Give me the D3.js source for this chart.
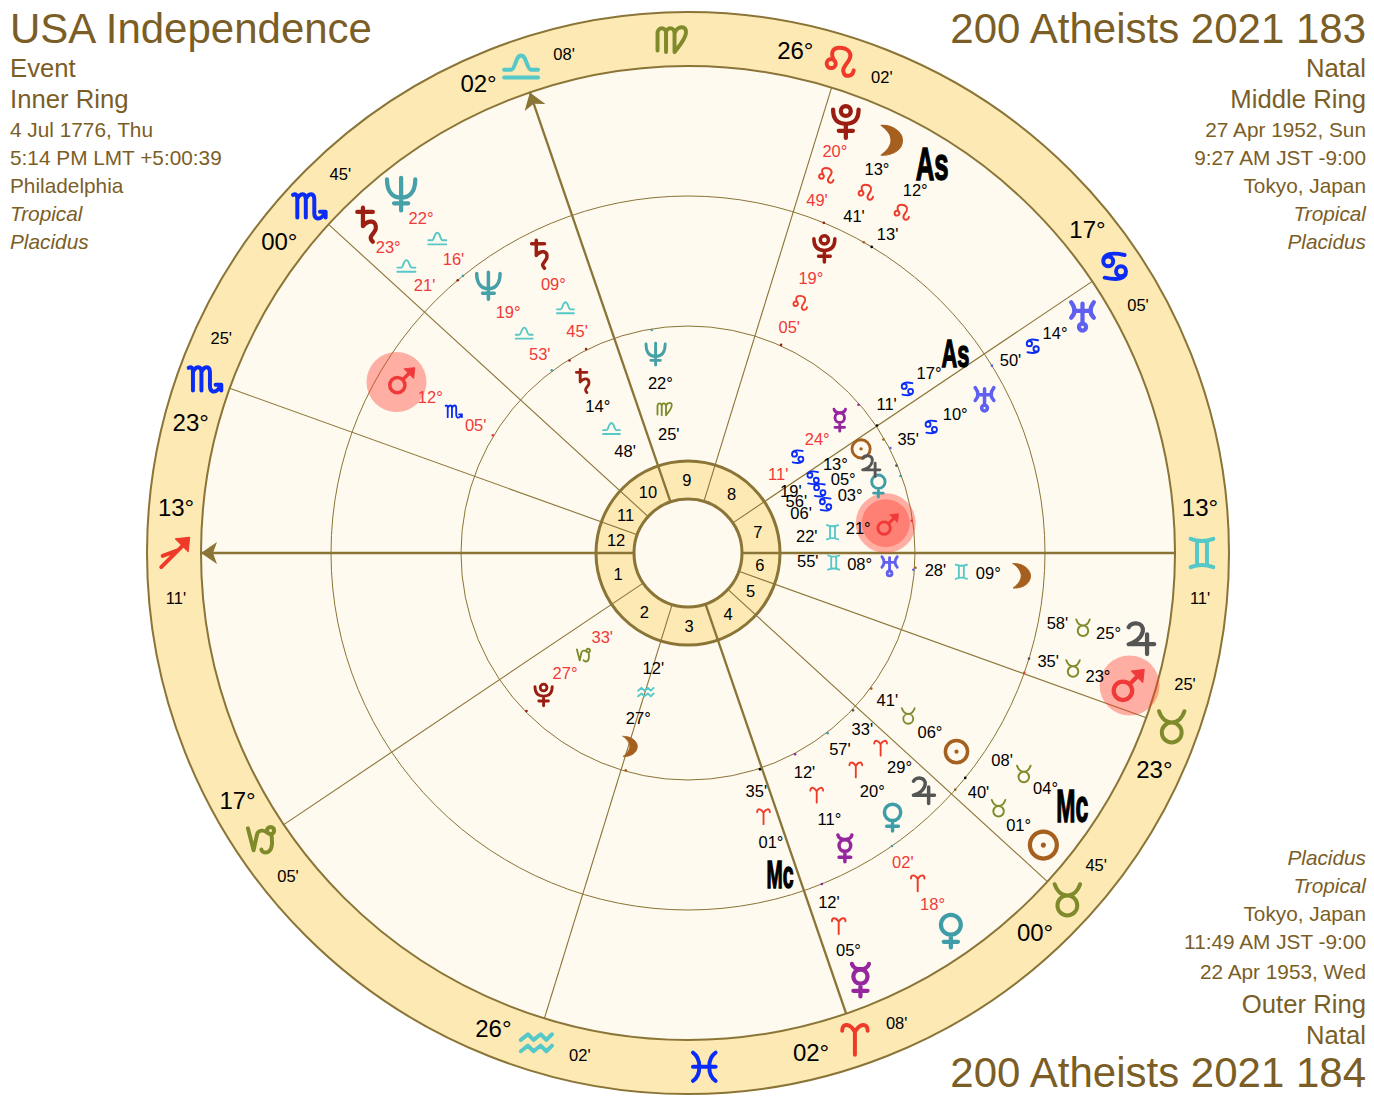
<!DOCTYPE html>
<html lang="en">
<head>
<meta charset="UTF-8">
<title>Tri-wheel chart</title>
<script src="https://d3js.org/d3.v7.min.js"></script>
<style>
  html, body { margin: 0; padding: 0; background: #fff; }
  svg { display: block; }
  text { font-family: "Liberation Sans", Arial, sans-serif; }
  .head { fill: #7b5e26; }
  .glyph { fill: none; stroke-linecap: round; stroke-linejoin: round; }
</style>
</head>
<body>
<script>
// signs run from 0 = aries
const signNames = ["aries","taurus","gemini","cancer","leo","virgo","libra","scorpio","sagittarius","capricorn","aquarius","pisces"];
const signColors = ["#ef3a2a","#7f8a2b","#55c8c8","#0a2cf5"]; // fire earth air water

// house cusps 1..12
const cuspDeg  = [13,17,26, 2, 0,23,13,17,26, 2, 0,23];
const cuspSign = [ 8, 9,10, 0, 1, 1, 2, 3, 4, 6, 7, 7];
const cuspMin  = [11, 5, 2, 8,45,25,11, 5, 2, 8,45,25];
const axisHouses = [1,4,7,10];
const arrowHouses = [1,10];
const interceptedSigns = [5,11]; // no cusp falls in these, glyph only

// inner ring, USA Independence
const innerBodies = ["sun","moon","mercury","venus","mars","jupiter","saturn","uranus","neptune","pluto"];
const innerDeg    = [13,27,24, 3,21, 5,14, 8,22,27];
const innerSign   = [ 3,10, 3, 3, 2, 3, 6, 2, 5, 9];
const innerMin    = [19,12,11, 6,22,56,48,55,25,33];
const innerShift  = [0.9,-0.8,0.3,-0.4,0,2.75,0,0.5,0,0];
const innerRetro  = ["mercury","pluto"];

// middle ring, 200 Atheists 2021 183
const middleBodies = ["sun","moon","mercury","venus","mars","jupiter","saturn","uranus","neptune","pluto","As","Mc"];
const middleDeg    = [ 6, 9,11,20,12,29, 9,10,19,19,17, 1];
const middleSign   = [ 1, 2, 0, 0, 7, 0, 6, 3, 6, 4, 3, 0];
const middleMin    = [41,28,12,57, 5,33,45,35,53, 5,11,35];
const middleShift  = [0,-0.2,0,0,0,-1.7,0,0,0,0,2.8,-2.4];
const middleRetro  = ["mars","saturn","neptune","pluto"];

// outer ring, 200 Atheists 2021 184
const outerBodies = ["sun","moon","mercury","venus","mars","jupiter","saturn","uranus","neptune","pluto","As","Mc"];
const outerDeg    = [ 1,13, 5,18,23,25,23,14,22,20,12, 4];
const outerSign   = [ 1, 4, 0, 0, 1, 1, 6, 3, 6, 4, 4, 1];
const outerMin    = [40,41,12, 2,35,58,21,50,16,49,13, 8];
const outerShift  = [2.1,3.3,0,0,2.9,6.5,4.3,-0.7,-0.5,2.3,-1.1,5.7];
const outerRetro  = ["venus","saturn","neptune","pluto"];

const bodyColors = {sun:"#a5601f",moon:"#a5601f",mercury:"#95269d",venus:"#3f9da8",mars:"#f03a3a",jupiter:"#555555",
  saturn:"#9b2013",uranus:"#5f5ff0",neptune:"#45a0a8",pluto:"#9b1c10",As:"#000",Mc:"#000"};

const headTL = ["USA Independence","Event","Inner Ring","4 Jul 1776, Thu","5:14 PM LMT +5:00:39","Philadelphia","Tropical","Placidus"];
const headTR = ["200 Atheists 2021 183","Natal","Middle Ring","27 Apr 1952, Sun","9:27 AM JST -9:00","Tokyo, Japan","Tropical","Placidus"];
const headBR = ["Placidus","Tropical","Tokyo, Japan","11:49 AM JST -9:00","22 Apr 1953, Wed","Outer Ring","Natal","200 Atheists 2021 184"];

// glyph outlines in a 24 unit box around 0,0
const moonPath = "M-7,-10.5C2,-11 8,-5 8,0C8,6 2,11 -7,10.5C-2,7 0,3 0,0C0,-3 -2,-7 -7,-10.5Z";
const glyphs = {
  sun: {d:"M9.5,0A9.5,9.5 0 1 1-9.5,0A9.5,9.5 0 1 1 9.5,0", dot:1.8},
  moon: {fill:moonPath},
  mercury: {d:"M-6,-11C-5,-6 5,-6 6,-11M5,-2A5,5 0 1 1-5,-2A5,5 0 1 1 5,-2M0,3V12M-5,8H5"},
  venus: {d:"M7,-4A7,7 0 1 1-7,-4A7,7 0 1 1 7,-4M0,3V12M-5,8H5"},
  mars: {d:"M2.5,4A6.5,6.5 0 1 1-10.5,4A6.5,6.5 0 1 1 2.5,4M1,-1L9,-9", fill:"M2,-10L11,-11L10,-2Z"},
  jupiter: {d:"M-8,-8C-6,-12 3,-12 2,-5C1,0 -4,3 -8,4H10M5,-3V11"},
  saturn: {d:"M-6,-9H5M-2,-12V1C2,-4 8,-3 7,3C6,7 1,8 5,12"},
  uranus: {d:"M-8,-10C-5,-6 -5,-2 -8,1M8,-10C5,-6 5,-2 8,1M-6,-4H6M0,-9V5M2.5,7.5A2.5,2.5 0 1 1-2.5,7.5A2.5,2.5 0 1 1 2.5,7.5"},
  neptune: {d:"M-10,-10C-10,0 -5,3 0,3C5,3 10,0 10,-10M0,-11V12M-5,7H5"},
  pluto: {d:"M-9,-8C-9,0 -5,2 0,2C5,2 9,0 9,-8M3.5,-7A3.5,3.5 0 1 1-3.5,-7A3.5,3.5 0 1 1 3.5,-7M0,2V12M-5,7H5"},
  aries: {d:"M-9,-6C-9,-12 -3,-11 0,-5L0,11M9,-6C9,-12 3,-11 0,-5"},
  taurus: {d:"M7,4A7,7 0 1 1-7,4A7,7 0 1 1 7,4M-9,-11C-7,-5 -3,-3 0,-3C3,-3 7,-5 9,-11"},
  gemini: {d:"M-8,-10C-3,-8 3,-8 8,-10M-8,10C-3,8 3,8 8,10M-3.5,-8V8M3.5,-8V8"},
  cancer: {d:"M-1,-3.5A3.5,3.5 0 1 1-8,-3.5A3.5,3.5 0 1 1-1,-3.5M-8,-3.5C-8,-9 -2,-10 7,-8M8,3.5A3.5,3.5 0 1 1 1,3.5A3.5,3.5 0 1 1 8,3.5M8,3.5C8,9 2,10 -7,8"},
  leo: {d:"M-2.7,1.2A3.2,3.2 0 1 1-9.1,1.2A3.2,3.2 0 1 1-2.7,1.2M-3.5,-0.5C-7,-6 -5,-10 0,-10C6,-10 9,-6 7,-2C5,2 1,5 3,8C4,10.5 9,11 10,6"},
  virgo: {d:"M-10,8V-4C-10,-9 -4,-9 -4,-4V9M-4,-4C-4,-9 2,-9 2,-4V9M2,-4C3,-9 11,-11 10,-4C9,1 5,5 2,9"},
  libra: {d:"M-12,7.5H12M-12,2H-7C-4,2 -4,-8 0,-8C4,-8 4,2 7,2H12"},
  scorpio: {d:"M-11,-8C-9,-9 -8,-8 -8,-5V8M-8,-5C-6,-10 -2,-9 -2,-5V8M-2,-5C0,-10 4,-9 4,-5V5C4,9 7,10 10,7L12,4M8,4H12V8"},
  sagittarius: {d:"M-9,10L9,-8M-8,2L3,-2", fill:"M1,-10L11,-11L10,-1Z"},
  capricorn: {d:"M-9.5,-8L-5.5,7.5L-3,-4C-2,-7 2,-7 4,-5M9,-6.5A2.5,2.5 0 1 1 4,-6.5A2.5,2.5 0 1 1 9,-6.5M7,-4C8,2 8,9 3,9C1.5,9 0,8 0,7"},
  aquarius: {d:"M-11,-3L-6,-7L-2,-3L3,-7L7,-3L11,-7M-11,5L-6,1L-2,5L3,1L7,5L11,1"},
  pisces: {d:"M-8,-10C-2,-6 -2,6 -8,10M8,-10C2,-6 2,6 8,10M-8,0H8"}
};

const W = 1374, H = 1108;
const cx = 688, cy = 553;
const rOuter = 541, rZodiac = 487, rMid = 357, rIn = 227, rHouse = 92, rHub = 54;
const lineCol = "#8a7436", discCol = "#fefaef", bandCol = "#fce9b4", retroCol = "#ef3a3a";
const labelSize = 16.5;

const toLon = (deg, sign, min) => sign * 30 + deg + min / 60;
const ascLon = toLon(cuspDeg[0], cuspSign[0], cuspMin[0]);

// longitude -> radians for d3.pointRadial, ascendant on the left, zodiac running anticlockwise
const angle = d3.scaleLinear().domain([ascLon, ascLon + 360]).range([-Math.PI / 2, -Math.PI / 2 - 2 * Math.PI]);
const pos = (lon, r) => {
  const [x, y] = d3.pointRadial(angle(lon), r);
  return [cx + x, cy + y];
};
const signColor = s => signColors[s % 4];

const svg = d3.select("body").append("svg").attr("width", W).attr("height", H);

// discs
const discs = [[rOuter, bandCol, 2], [rZodiac, discCol, 2], [rMid, "none", 1], [rIn, "none", 1], [rHouse, bandCol, 3], [rHub, discCol, 3]];
svg.append("g").selectAll("circle").data(discs).enter().append("circle")
  .attr("cx", cx).attr("cy", cy)
  .attr("r", d => d[0]).attr("fill", d => d[1])
  .attr("stroke", lineCol).attr("stroke-width", d => d[2]);

// house lines
const cusps = cuspDeg.map((d, i) => ({house: i + 1, lon: toLon(d, cuspSign[i], cuspMin[i]), deg: d, sign: cuspSign[i], min: cuspMin[i]}));
svg.append("g").selectAll("line").data(cusps).enter().append("line")
  .attr("x1", d => pos(d.lon, rHub)[0]).attr("y1", d => pos(d.lon, rHub)[1])
  .attr("x2", d => pos(d.lon, rZodiac)[0]).attr("y2", d => pos(d.lon, rZodiac)[1])
  .attr("stroke", lineCol)
  .attr("stroke-width", d => axisHouses.includes(d.house) ? 2.3 : 1.1);

// arrow heads on asc and mc
svg.append("g").selectAll("path").data(cusps.filter(d => arrowHouses.includes(d.house))).enter().append("path")
  .attr("d", "M0,0L16,-11L12,0L16,11Z")
  .attr("fill", lineCol)
  .attr("transform", d => {
    const [x, y] = pos(d.lon, rZodiac);
    return `translate(${x},${y}) rotate(${Math.atan2(cy - y, cx - x) * 180 / Math.PI})`;
  });

// house numbers
svg.append("g").selectAll("text").data(cusps).enter().append("text")
  .attr("transform", (d, i) => {
    const next = cusps[(i + 1) % 12].lon;
    const mid = d.lon + ((next - d.lon + 360) % 360) / 2;
    const [x, y] = pos(mid, 73);
    return `translate(${x},${y})`;
  })
  .attr("text-anchor", "middle").attr("dy", "0.36em")
  .attr("font-size", labelSize).attr("fill", "#000")
  .text(d => d.house);

function drawGlyph(parent, name, x, y, size, color, sw) {
  const g0 = glyphs[name];
  const g = parent.append("g").attr("class", "glyph")
    .attr("transform", `translate(${x},${y}) scale(${size / 24})`);
  g.append("title").text(name);
  if (g0.d) g.append("path").attr("d", g0.d).attr("stroke", color).attr("stroke-width", sw);
  if (g0.fill) g.append("path").attr("d", g0.fill).attr("style", `fill:${color}`).attr("stroke", color).attr("stroke-width", 0.8);
  if (g0.dot) g.append("circle").attr("r", g0.dot).attr("style", `fill:${color}`);
}

// cusp labels in the band
const rBand = 514;
const cuspG = svg.append("g");
cusps.forEach(c => {
  // degree sits on the side that reads first
  const a = ((c.lon - ascLon + 180) % 360 + 360) % 360;
  const dir = a < 180 ? -1 : 1;
  const [gx, gy] = pos(c.lon, rBand);
  drawGlyph(cuspG, signNames[c.sign], gx, gy, 34, signColor(c.sign), 2.8);
  const [dx, dy] = pos(c.lon - dir * 5.1, rBand);
  const [mx, my] = pos(c.lon + dir * 5.0, rBand);
  cuspG.append("text").attr("x", dx).attr("y", dy).attr("dy", "0.36em").attr("text-anchor", "middle")
    .attr("font-size", 24).attr("fill", "#000").text(String(c.deg).padStart(2, "0") + "°");
  cuspG.append("text").attr("x", mx).attr("y", my).attr("dy", "0.36em").attr("text-anchor", "middle")
    .attr("font-size", labelSize).attr("fill", "#000").text(String(c.min).padStart(2, "0") + "'");
});
interceptedSigns.forEach(s => {
  const [x, y] = pos(s * 30 + 15, rBand);
  drawGlyph(cuspG, signNames[s], x, y, 34, signColor(s), 2.8);
});

// rings
const rings = [
  {bodies: innerBodies, deg: innerDeg, sign: innerSign, min: innerMin, shift: innerShift, retro: innerRetro,
   rGlyph: 202, rDeg: 172, rSign: 146, rMin: 120, rTick: 226, size: 23, signSize: 17, sw: 3, tag: 31, halo: [[200, 30, 0.4], [200, 24, 0.4]]},
  {bodies: middleBodies, deg: middleDeg, sign: middleSign, min: middleMin, shift: middleShift, retro: middleRetro,
   rGlyph: 334, rDeg: 301, rSign: 274, rMin: 248, rTick: 228, size: 28, signSize: 17, sw: 3, tag: 39, halo: [[338, 30, 0.7]]},
  {bodies: outerBodies, deg: outerDeg, sign: outerSign, min: outerMin, shift: outerShift, retro: outerRetro,
   rGlyph: 460, rDeg: 428, rSign: 402, rMin: 376, rTick: 357, size: 34, signSize: 18, sw: 3, tag: 46, halo: [[461, 30, 0]]}
];
const tagStretch = {As: 0.56, Mc: 0.5};

rings.forEach(ring => {
  const data = ring.bodies.map((b, i) => ({
    body: b,
    deg: ring.deg[i], sign: ring.sign[i], min: ring.min[i],
    lon: toLon(ring.deg[i], ring.sign[i], ring.min[i]),
    shown: toLon(ring.deg[i], ring.sign[i], ring.min[i]) + ring.shift[i],
    textCol: ring.retro.includes(b) ? retroCol : "#000"
  }));
  const g = svg.append("g");

  // halo behind mars
  data.filter(d => d.body === "mars").forEach(d => {
    ring.halo.forEach(h => {
      const [x, y] = pos(d.shown + h[2], h[0]);
      g.append("circle").attr("cx", x).attr("cy", y).attr("r", h[1]).attr("fill", "#ff3b30").attr("opacity", 0.4);
    });
  });

  // true position tick
  g.selectAll("circle.tick").data(data).enter().append("circle").attr("class", "tick")
    .attr("cx", d => pos(d.lon, ring.rTick)[0]).attr("cy", d => pos(d.lon, ring.rTick)[1])
    .attr("r", 1.3).attr("fill", d => bodyColors[d.body]);

  data.forEach(d => {
    const [gx, gy] = pos(d.shown, ring.rGlyph);
    if (glyphs[d.body]) {
      drawGlyph(g, d.body, gx, gy, ring.size, bodyColors[d.body], ring.sw);
    } else {
      g.append("text").attr("transform", `translate(${gx},${gy}) scale(${tagStretch[d.body]},1)`)
        .attr("text-anchor", "middle").attr("dy", "0.36em")
        .attr("font-size", ring.tag).attr("font-weight", "bold")
        .attr("stroke", "#000").attr("stroke-width", 1.4)
        .attr("fill", "#000").text(d.body);
    }
    const [dx, dy] = pos(d.shown, ring.rDeg);
    const [sx, sy] = pos(d.shown, ring.rSign);
    const [mx, my] = pos(d.shown, ring.rMin);
    g.append("text").attr("x", dx).attr("y", dy).attr("dy", "0.36em").attr("text-anchor", "middle")
      .attr("font-size", labelSize).attr("fill", d.textCol).text(String(d.deg).padStart(2, "0") + "°");
    drawGlyph(g, signNames[d.sign], sx, sy, ring.signSize, signColor(d.sign), 2.6);
    g.append("text").attr("x", mx).attr("y", my).attr("dy", "0.36em").attr("text-anchor", "middle")
      .attr("font-size", labelSize).attr("fill", d.textCol).text(String(d.min).padStart(2, "0") + "'");
  });
});

// corner text
const topY = [43, 77, 108, 137, 165, 193, 221, 249];
const topSize = [42, 25.7, 25.7, 20.8, 20.8, 20.8, 20.8, 20.8];
const botY = [865, 893, 921, 949, 979, 1013, 1044, 1087];
const botSize = [20.8, 20.8, 20.8, 20.8, 20.8, 25.7, 25.7, 42];

function block(lines, ys, sizes, x, anchor) {
  svg.append("g").selectAll("text").data(lines).enter().append("text")
    .attr("class", "head")
    .attr("x", x).attr("y", (d, i) => ys[i])
    .attr("text-anchor", anchor)
    .attr("font-size", (d, i) => sizes[i])
    .attr("font-style", d => (d === "Tropical" || d === "Placidus") ? "italic" : "normal")
    .text(d => d);
}
block(headTL, topY, topSize, 10, "start");
block(headTR, topY, topSize, 1366, "end");
block(headBR, botY, botSize, 1366, "end");
</script>
</body>
</html>
